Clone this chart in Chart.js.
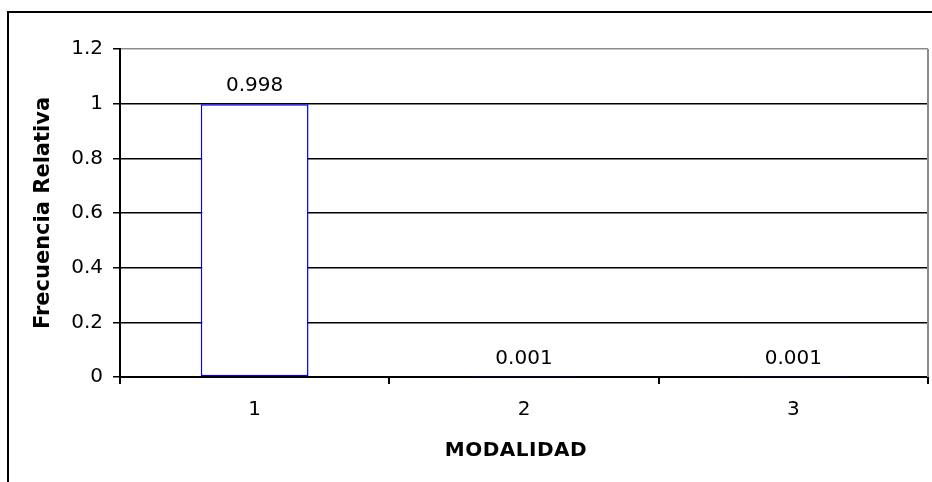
<!DOCTYPE html>
<html>
<head>
<meta charset="utf-8">
<script src="https://cdn.jsdelivr.net/npm/chart.js@4"></script>
<style>
  html, body { margin: 0; padding: 0; background: #fff; overflow: hidden; }
  #marco {
    position: absolute; left: 7px; top: 11px; width: 2000px; height: 2000px;
    border-left: 2px solid #000; border-top: 2px solid #000;
  }
  canvas { position: absolute; left: 0; top: 0; }
</style>
</head>
<body>
<div id="marco"></div>
<canvas id="grafico" width="932" height="482"></canvas>
<script>
// ── DATOS ─────────────────────────────────────────────────────────────────────
var modalidades = ['1', '2', '3'];
var frecuencias = [0.998, 0.001, 0.001];
var ticksY      = [0, 0.2, 0.4, 0.6, 0.8, 1, 1.2];

var tituloY = 'Frecuencia Relativa';
var tituloX = 'MODALIDAD';

var FUENTE = '"DejaVu Sans", Verdana, sans-serif';

// ── PLUGINS ───────────────────────────────────────────────────────────────────
var pluginEtiquetas = {
  id: 'etiquetas',
  afterDatasetsDraw: function(chart) {
    var ctx  = chart.ctx;
    var meta = chart.getDatasetMeta(0);
    ctx.save();
    ctx.font = '20px ' + FUENTE;
    ctx.fillStyle = '#000';
    ctx.textAlign = 'center';
    ctx.textBaseline = 'alphabetic';
    meta.data.forEach(function(bar, i) {
      ctx.fillText(String(frecuencias[i]), bar.x, bar.y - 13);
    });
    ctx.restore();
  }
};

var pluginMarco = {
  id: 'marcoPlot',
  beforeDatasetsDraw: function(chart) {
    var a = chart.chartArea, ctx = chart.ctx;
    ctx.save();
    ctx.strokeStyle = '#8c8c8c';
    ctx.lineWidth = 2;
    ctx.beginPath();
    ctx.moveTo(a.right, a.top);
    ctx.lineTo(a.right, a.bottom);
    ctx.stroke();
    ctx.restore();
  },
  afterDraw: function(chart) {
    var ctx = chart.ctx, a = chart.chartArea;
    ctx.save();
    ctx.fillStyle = '#000';
    ctx.textAlign = 'center';
    ctx.textBaseline = 'alphabetic';

    ctx.font = 'bold 20px ' + FUENTE;
    ctx.letterSpacing = '0.5px';
    ctx.fillText(tituloX, 516, 456);

    // título vertical centrado en el área del gráfico
    ctx.font = 'bold 21px ' + FUENTE;
    ctx.letterSpacing = '0px';
    ctx.translate(49, (a.top + a.bottom) / 2);
    ctx.rotate(-Math.PI / 2);
    ctx.fillText(tituloY, 0, 0);
    ctx.restore();
  }
};

// ── GRÁFICO ───────────────────────────────────────────────────────────────────
var ctx = document.getElementById('grafico').getContext('2d');
var grafico = new Chart(ctx, {
  type: 'bar',
  data: {
    labels: modalidades,
    datasets: [{
      label: 'Frecuencia Relativa',
      data: frecuencias,
      backgroundColor: '#ffffff',
      borderColor: '#0000ff',
      borderWidth: 1.5,
      borderSkipped: false,
      barPercentage: 0.4,
      categoryPercentage: 1
    }]
  },
  options: {
    responsive: false,
    animation: false,
    devicePixelRatio: 1,
    layout: { padding: { top: 49, right: 4, left: 0, bottom: 0 } },
    plugins: {
      legend: { display: false },
      tooltip: { enabled: false }
    },
    scales: {
      x: {
        grid: {
          offset: true,
          drawOnChartArea: false,
          drawTicks: true,
          tickLength: 7,
          color: '#000',
          lineWidth: 2
        },
        border: { display: true, color: '#000', width: 2 },
        ticks: {
          color: '#000',
          font: { family: FUENTE, size: 20 },
          padding: 14,
          maxRotation: 0
        },
        afterFit: function(scale) { scale.height = 105; }
      },
      y: {
        min: 0,
        max: 1.2,
        afterBuildTicks: function(scale) {
          scale.ticks = ticksY.map(function(v) { return { value: v }; });
        },
        grid: {
          color: function(c) { return c.tick && c.tick.value === 1.2 ? '#8c8c8c' : '#000'; },
          lineWidth: 1.5,
          tickLength: 7,
          tickColor: '#000'
        },
        border: { display: true, color: '#000', width: 2 },
        ticks: {
          color: '#000',
          font: { family: FUENTE, size: 20 },
          padding: 10,
          callback: function(v) { return String(v); }
        },
        afterFit: function(scale) { scale.width = 120; }
      }
    }
  },
  plugins: [pluginMarco, pluginEtiquetas]
});
</script>
</body>
</html>
